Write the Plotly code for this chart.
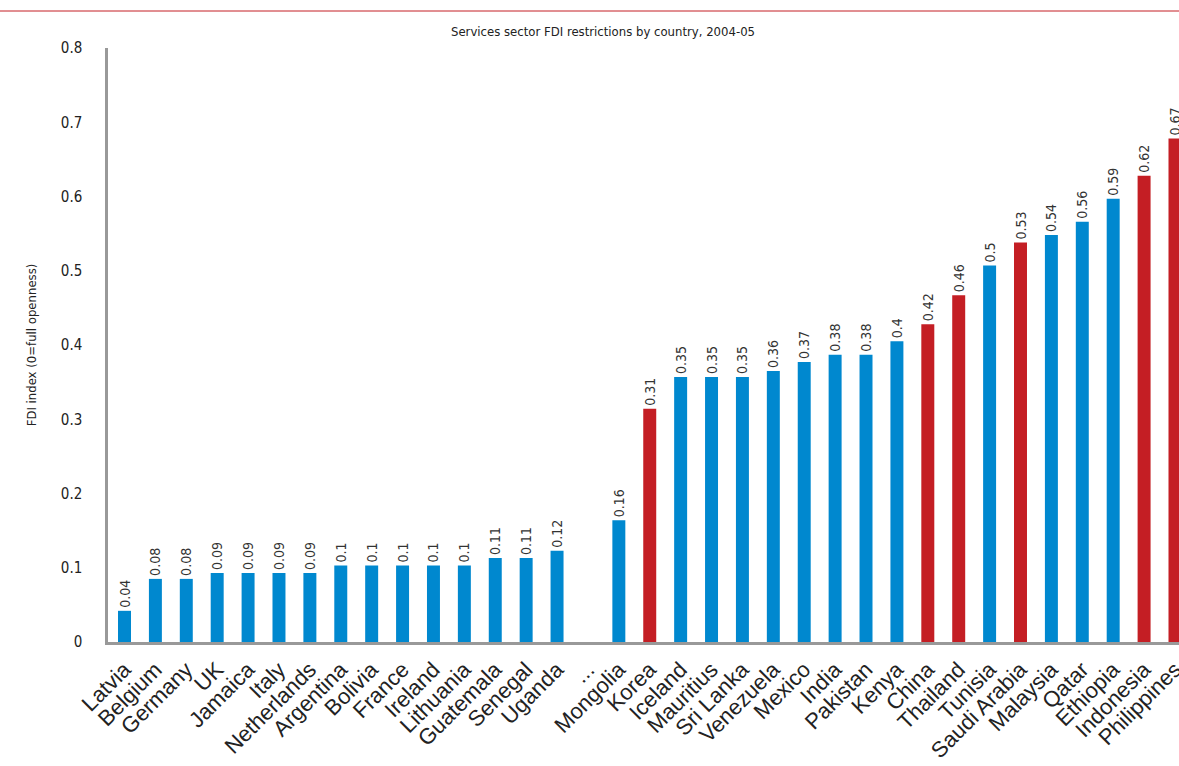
import plotly.graph_objects as go

countries = ["Latvia", "Belgium", "Germany", "UK", "Jamaica", "Italy", "Netherlands",
             "Argentina", "Bolivia", "France", "Ireland", "Lithuania", "Guatemala",
             "Senegal", "Uganda", "...", "Mongolia", "Korea", "Iceland", "Mauritius",
             "Sri Lanka", "Venezuela", "Mexico", "India", "Pakistan", "Kenya", "China",
             "Thailand", "Tunisia", "Saudi Arabia", "Malaysia", "Qatar", "Ethiopia",
             "Indonesia", "Philippines"]
fdi_index = [0.042, 0.085, 0.085, 0.093, 0.093, 0.093, 0.093,
             0.103, 0.103, 0.103, 0.103, 0.103, 0.113,
             0.113, 0.123, None, 0.164, 0.314, 0.357, 0.357,
             0.357, 0.365, 0.377, 0.387, 0.387, 0.405, 0.428,
             0.467, 0.507, 0.538, 0.548, 0.566, 0.597,
             0.628, 0.678]
value_labels = ["0.04", "0.08", "0.08", "0.09", "0.09", "0.09", "0.09",
                "0.1", "0.1", "0.1", "0.1", "0.1", "0.11",
                "0.11", "0.12", "", "0.16", "0.31", "0.35", "0.35",
                "0.35", "0.36", "0.37", "0.38", "0.38", "0.4", "0.42",
                "0.46", "0.5", "0.53", "0.54", "0.56", "0.59",
                "0.62", "0.67"]
highlighted = ["Korea", "China", "Thailand", "Saudi Arabia", "Indonesia", "Philippines"]

BLUE = "#0088CF"
RED = "#C41E24"
NARROW = "DejaVu Sans Condensed, Liberation Sans Narrow, Arial Narrow, sans-serif"

colors = [RED if c in highlighted else BLUE for c in countries]

fig = go.Figure()
fig.add_trace(go.Bar(
    x=countries,
    y=fdi_index,
    marker={"color": colors, "line": {"width": 0}},
    width=0.42,
    text=value_labels,
    textposition="outside",
    textangle=-90,
    textfont={"family": NARROW, "size": 14, "color": "#333333"},
    cliponaxis=False,
))

fig.update_layout(
    width=1179,
    height=766,
    margin={"l": 108, "r": 0, "t": 48, "b": 124},
    plot_bgcolor="white",
    paper_bgcolor="white",
    showlegend=False,
    uniformtext={"mode": "show", "minsize": 14},
    title={
        "text": "Services sector FDI restrictions by country, 2004-05",
        "font": {"family": NARROW, "size": 13, "color": "#222222"},
        "x": 603 / 1179,
        "xanchor": "center",
        "y": 1 - 31 / 766,
        "yanchor": "middle",
    },
    shapes=[{
        "type": "line", "xref": "paper", "yref": "paper",
        "x0": -0.11, "x1": 1.0,
        "y0": 1 + (48 - 11) / 594, "y1": 1 + (48 - 11) / 594,
        "line": {"color": RED, "width": 1},
    }],
)
fig.update_xaxes(
    type="category",
    range=[-0.534, 34.13],
    tickangle=-45,
    tickfont={"family": "Liberation Sans, Arial, sans-serif", "size": 22, "color": "#222222"},
    ticklabelstandoff=3,
    automargin=False,
    showline=True, linecolor="#999999", linewidth=3,
    ticks="", showgrid=False,
)
fig.update_yaxes(
    range=[0, 0.8],
    tickvals=[0, 0.1, 0.2, 0.3, 0.4, 0.5, 0.6, 0.7, 0.8],
    ticktext=["0", "0.1", "0.2", "0.3", "0.4", "0.5", "0.6", "0.7", "0.8"],
    tickfont={"family": NARROW, "size": 15, "color": "#222222"},
    ticklabelstandoff=20,
    automargin=False,
    showline=True, linecolor="#999999", linewidth=2.5,
    showgrid=False, zeroline=False, ticks="",
    title={"text": "FDI index (0=full openness)",
           "font": {"family": NARROW, "size": 13, "color": "#222222"},
           "standoff": 22},
)

# drop the page's default body margin so the figure sits at the window's corner
fig.write_html(
    "out.html",
    config={"displayModeBar": False},
    post_script="document.body.style.margin='0';document.body.style.overflow='hidden';",
)
